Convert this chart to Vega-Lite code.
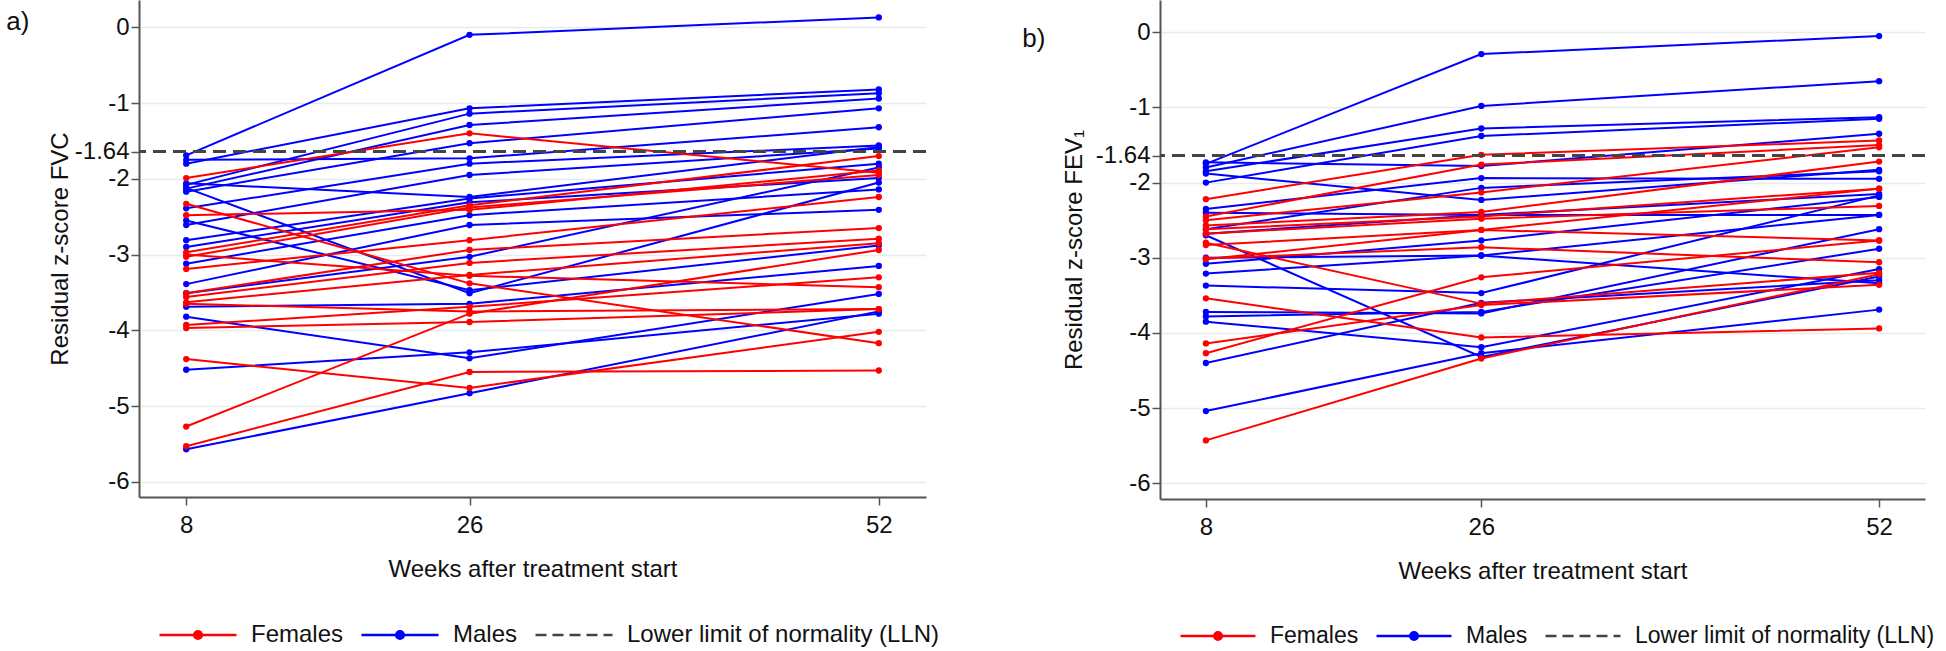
{
  "$schema": "https://vega.github.io/schema/vega-lite/v6.json",
  "background": "white",
  "padding": {"left": 6, "top": 0, "right": 0, "bottom": 0},
  "bounds": "flush",
  "spacing": 234,
  "config": {
    "font": "Liberation Sans",
    "view": {"stroke": null},
    "axis": {"labelFontSize": 24, "titleFontSize": 24, "titleFontWeight": "normal", "labelColor": "#111", "titleColor": "#111", "domainColor": "#555", "domainWidth": 2, "tickColor": "#555", "tickWidth": 1.5, "tickSize": 8, "labelOverlap": false, "labelFlush": false},
    "title": {"fontSize": 26, "fontWeight": "normal", "color": "#111"},
    "legend": {"orient": "bottom", "direction": "horizontal", "symbolStrokeWidth": 2.5, "labelColor": "#111", "labelOffset": 13, "columnPadding": 12, "labelLimit": 400, "padding": 19, "offset": -5}
  },
  "datasets": {
    "lln": [{"group": "Lower limit of normality (LLN)", "z": -1.64}],
    "fvc": [
      {"group":"Males","id":"m1","week":8,"z":-1.69},{"group":"Males","id":"m1","week":26,"z":-0.10},{"group":"Males","id":"m1","week":52,"z":0.13},
      {"group":"Males","id":"m2","week":8,"z":-1.80},{"group":"Males","id":"m2","week":26,"z":-1.07},{"group":"Males","id":"m2","week":52,"z":-0.82},
      {"group":"Males","id":"m3","week":8,"z":-2.08},{"group":"Males","id":"m3","week":26,"z":-1.14},{"group":"Males","id":"m3","week":52,"z":-0.87},
      {"group":"Males","id":"m4","week":8,"z":-2.13},{"group":"Males","id":"m4","week":26,"z":-1.29},{"group":"Males","id":"m4","week":52,"z":-0.94},
      {"group":"Males","id":"m5","week":8,"z":-2.17},{"group":"Males","id":"m5","week":26,"z":-1.53},{"group":"Males","id":"m5","week":52,"z":-1.07},
      {"group":"Males","id":"m6","week":8,"z":-1.75},{"group":"Males","id":"m6","week":26,"z":-1.73},{"group":"Males","id":"m6","week":52,"z":-1.32},
      {"group":"Males","id":"m7","week":8,"z":-2.39},{"group":"Males","id":"m7","week":26,"z":-1.80},{"group":"Males","id":"m7","week":52,"z":-1.56},
      {"group":"Males","id":"m8","week":8,"z":-2.61},{"group":"Males","id":"m8","week":26,"z":-1.95},{"group":"Males","id":"m8","week":52,"z":-1.60},
      {"group":"Males","id":"m9","week":8,"z":-2.81},{"group":"Males","id":"m9","week":26,"z":-2.26},{"group":"Males","id":"m9","week":52,"z":-1.80},
      {"group":"Males","id":"m10","week":8,"z":-2.90},{"group":"Males","id":"m10","week":26,"z":-2.31},{"group":"Males","id":"m10","week":52,"z":-1.99},
      {"group":"Males","id":"m11","week":8,"z":-3.12},{"group":"Males","id":"m11","week":26,"z":-2.48},{"group":"Males","id":"m11","week":52,"z":-2.14},
      {"group":"Males","id":"m12","week":8,"z":-2.55},{"group":"Males","id":"m12","week":26,"z":-3.47},{"group":"Males","id":"m12","week":52,"z":-2.88},
      {"group":"Males","id":"m13","week":8,"z":-3.39},{"group":"Males","id":"m13","week":26,"z":-2.61},{"group":"Males","id":"m13","week":52,"z":-2.41},
      {"group":"Males","id":"m14","week":8,"z":-3.51},{"group":"Males","id":"m14","week":26,"z":-3.03},{"group":"Males","id":"m14","week":52,"z":-1.85},
      {"group":"Males","id":"m15","week":8,"z":-3.69},{"group":"Males","id":"m15","week":26,"z":-3.65},{"group":"Males","id":"m15","week":52,"z":-3.15},
      {"group":"Males","id":"m16","week":8,"z":-3.82},{"group":"Males","id":"m16","week":26,"z":-4.37},{"group":"Males","id":"m16","week":52,"z":-3.52},
      {"group":"Males","id":"m17","week":8,"z":-4.52},{"group":"Males","id":"m17","week":26,"z":-4.29},{"group":"Males","id":"m17","week":52,"z":-3.78},
      {"group":"Males","id":"m18","week":8,"z":-5.57},{"group":"Males","id":"m18","week":26,"z":-4.83},{"group":"Males","id":"m18","week":52,"z":-3.75},
      {"group":"Males","id":"m19","week":8,"z":-2.06},{"group":"Males","id":"m19","week":26,"z":-2.24},{"group":"Males","id":"m19","week":52,"z":-1.58},
      {"group":"Males","id":"m20","week":8,"z":-2.12},{"group":"Males","id":"m20","week":26,"z":-3.51},{"group":"Males","id":"m20","week":52,"z":-2.05},
      {"group":"Females","id":"f1","week":8,"z":-1.99},{"group":"Females","id":"f1","week":26,"z":-1.40},{"group":"Females","id":"f1","week":52,"z":-1.92},
      {"group":"Females","id":"f2","week":8,"z":-2.33},{"group":"Females","id":"f2","week":26,"z":-3.38},{"group":"Females","id":"f2","week":52,"z":-4.17},
      {"group":"Females","id":"f3","week":8,"z":-2.48},{"group":"Females","id":"f3","week":26,"z":-2.41},{"group":"Females","id":"f3","week":52,"z":-1.89},
      {"group":"Females","id":"f4","week":8,"z":-2.97},{"group":"Females","id":"f4","week":26,"z":-2.35},{"group":"Females","id":"f4","week":52,"z":-1.70},
      {"group":"Females","id":"f5","week":8,"z":-3.03},{"group":"Females","id":"f5","week":26,"z":-2.38},{"group":"Females","id":"f5","week":52,"z":-1.95},
      {"group":"Females","id":"f6","week":8,"z":-3.19},{"group":"Females","id":"f6","week":26,"z":-2.81},{"group":"Females","id":"f6","week":52,"z":-2.24},
      {"group":"Females","id":"f7","week":8,"z":-3.51},{"group":"Females","id":"f7","week":26,"z":-2.94},{"group":"Females","id":"f7","week":52,"z":-2.65},
      {"group":"Females","id":"f8","week":8,"z":-3.56},{"group":"Females","id":"f8","week":26,"z":-3.11},{"group":"Females","id":"f8","week":52,"z":-2.79},
      {"group":"Females","id":"f9","week":8,"z":-3.63},{"group":"Females","id":"f9","week":26,"z":-3.27},{"group":"Females","id":"f9","week":52,"z":-2.85},
      {"group":"Females","id":"f10","week":8,"z":-3.93},{"group":"Females","id":"f10","week":26,"z":-3.69},{"group":"Females","id":"f10","week":52,"z":-3.30},
      {"group":"Females","id":"f11","week":8,"z":-3.97},{"group":"Females","id":"f11","week":26,"z":-3.89},{"group":"Females","id":"f11","week":52,"z":-3.72},
      {"group":"Females","id":"f12","week":8,"z":-4.38},{"group":"Females","id":"f12","week":26,"z":-4.76},{"group":"Females","id":"f12","week":52,"z":-4.02},
      {"group":"Females","id":"f13","week":8,"z":-5.27},{"group":"Females","id":"f13","week":26,"z":-3.78},{"group":"Females","id":"f13","week":52,"z":-2.94},
      {"group":"Females","id":"f14","week":8,"z":-5.53},{"group":"Females","id":"f14","week":26,"z":-4.55},{"group":"Females","id":"f14","week":52,"z":-4.53},
      {"group":"Females","id":"f15","week":8,"z":-3.65},{"group":"Females","id":"f15","week":26,"z":-3.75},{"group":"Females","id":"f15","week":52,"z":-3.72},
      {"group":"Females","id":"f16","week":8,"z":-3.00},{"group":"Females","id":"f16","week":26,"z":-3.28},{"group":"Females","id":"f16","week":52,"z":-3.43}
    ],
    "fev": [
      {"group":"Males","id":"m1","week":8,"z":-1.75},{"group":"Males","id":"m1","week":26,"z":-0.29},{"group":"Males","id":"m1","week":52,"z":-0.05},
      {"group":"Males","id":"m2","week":8,"z":-1.80},{"group":"Males","id":"m2","week":26,"z":-0.98},{"group":"Males","id":"m2","week":52,"z":-0.65},
      {"group":"Males","id":"m3","week":8,"z":-1.85},{"group":"Males","id":"m3","week":26,"z":-1.28},{"group":"Males","id":"m3","week":52,"z":-1.13},
      {"group":"Males","id":"m4","week":8,"z":-2.00},{"group":"Males","id":"m4","week":26,"z":-1.38},{"group":"Males","id":"m4","week":52,"z":-1.15},
      {"group":"Males","id":"m5","week":8,"z":-1.73},{"group":"Males","id":"m5","week":26,"z":-1.78},{"group":"Males","id":"m5","week":52,"z":-1.35},
      {"group":"Males","id":"m6","week":8,"z":-1.88},{"group":"Males","id":"m6","week":26,"z":-2.23},{"group":"Males","id":"m6","week":52,"z":-1.83},
      {"group":"Males","id":"m7","week":8,"z":-2.35},{"group":"Males","id":"m7","week":26,"z":-1.94},{"group":"Males","id":"m7","week":52,"z":-1.95},
      {"group":"Males","id":"m8","week":8,"z":-2.62},{"group":"Males","id":"m8","week":26,"z":-2.07},{"group":"Males","id":"m8","week":52,"z":-1.85},
      {"group":"Males","id":"m9","week":8,"z":-2.68},{"group":"Males","id":"m9","week":26,"z":-2.43},{"group":"Males","id":"m9","week":52,"z":-2.15},
      {"group":"Males","id":"m10","week":8,"z":-3.08},{"group":"Males","id":"m10","week":26,"z":-2.77},{"group":"Males","id":"m10","week":52,"z":-2.19},
      {"group":"Males","id":"m11","week":8,"z":-3.21},{"group":"Males","id":"m11","week":26,"z":-2.97},{"group":"Males","id":"m11","week":52,"z":-2.43},
      {"group":"Males","id":"m12","week":8,"z":-3.37},{"group":"Males","id":"m12","week":26,"z":-3.47},{"group":"Males","id":"m12","week":52,"z":-2.17},
      {"group":"Males","id":"m13","week":8,"z":-3.72},{"group":"Males","id":"m13","week":26,"z":-3.74},{"group":"Males","id":"m13","week":52,"z":-2.62},
      {"group":"Males","id":"m14","week":8,"z":-3.78},{"group":"Males","id":"m14","week":26,"z":-3.72},{"group":"Males","id":"m14","week":52,"z":-2.88},
      {"group":"Males","id":"m15","week":8,"z":-3.85},{"group":"Males","id":"m15","week":26,"z":-4.19},{"group":"Males","id":"m15","week":52,"z":-3.15},
      {"group":"Males","id":"m16","week":8,"z":-2.70},{"group":"Males","id":"m16","week":26,"z":-4.32},{"group":"Males","id":"m16","week":52,"z":-3.25},
      {"group":"Males","id":"m17","week":8,"z":-4.40},{"group":"Males","id":"m17","week":26,"z":-3.60},{"group":"Males","id":"m17","week":52,"z":-3.30},
      {"group":"Males","id":"m18","week":8,"z":-5.04},{"group":"Males","id":"m18","week":26,"z":-4.27},{"group":"Males","id":"m18","week":52,"z":-3.69},
      {"group":"Males","id":"m19","week":8,"z":-2.40},{"group":"Males","id":"m19","week":26,"z":-2.43},{"group":"Males","id":"m19","week":52,"z":-2.43},
      {"group":"Males","id":"m20","week":8,"z":-3.00},{"group":"Males","id":"m20","week":26,"z":-2.97},{"group":"Males","id":"m20","week":52,"z":-3.34},
      {"group":"Females","id":"f1","week":8,"z":-2.22},{"group":"Females","id":"f1","week":26,"z":-1.63},{"group":"Females","id":"f1","week":52,"z":-1.44},
      {"group":"Females","id":"f2","week":8,"z":-2.45},{"group":"Females","id":"f2","week":26,"z":-1.76},{"group":"Females","id":"f2","week":52,"z":-1.50},
      {"group":"Females","id":"f3","week":8,"z":-2.50},{"group":"Females","id":"f3","week":26,"z":-2.13},{"group":"Females","id":"f3","week":52,"z":-1.53},
      {"group":"Females","id":"f4","week":8,"z":-2.57},{"group":"Females","id":"f4","week":26,"z":-2.39},{"group":"Females","id":"f4","week":52,"z":-1.72},
      {"group":"Females","id":"f5","week":8,"z":-2.62},{"group":"Females","id":"f5","week":26,"z":-2.45},{"group":"Females","id":"f5","week":52,"z":-2.08},
      {"group":"Females","id":"f6","week":8,"z":-2.68},{"group":"Females","id":"f6","week":26,"z":-2.48},{"group":"Females","id":"f6","week":52,"z":-2.31},
      {"group":"Females","id":"f7","week":8,"z":-2.83},{"group":"Females","id":"f7","week":26,"z":-2.63},{"group":"Females","id":"f7","week":52,"z":-2.77},
      {"group":"Females","id":"f8","week":8,"z":-3.01},{"group":"Females","id":"f8","week":26,"z":-2.86},{"group":"Females","id":"f8","week":52,"z":-3.06},
      {"group":"Females","id":"f9","week":8,"z":-2.80},{"group":"Females","id":"f9","week":26,"z":-3.61},{"group":"Females","id":"f9","week":52,"z":-3.20},
      {"group":"Females","id":"f10","week":8,"z":-3.54},{"group":"Females","id":"f10","week":26,"z":-4.06},{"group":"Females","id":"f10","week":52,"z":-3.94},
      {"group":"Females","id":"f11","week":8,"z":-4.14},{"group":"Females","id":"f11","week":26,"z":-3.63},{"group":"Females","id":"f11","week":52,"z":-3.36},
      {"group":"Females","id":"f12","week":8,"z":-4.27},{"group":"Females","id":"f12","week":26,"z":-3.26},{"group":"Females","id":"f12","week":52,"z":-2.77},
      {"group":"Females","id":"f13","week":8,"z":-5.43},{"group":"Females","id":"f13","week":26,"z":-4.34},{"group":"Females","id":"f13","week":52,"z":-3.22},
      {"group":"Females","id":"f14","week":8,"z":-3.02},{"group":"Females","id":"f14","week":26,"z":-2.63},{"group":"Females","id":"f14","week":52,"z":-2.08}
    ]
  },
  "resolve": {"scale": {"x": "independent", "y": "independent", "color": "independent"}, "legend": {"color": "independent"}},
  "hconcat": [
    {
      "width": 787,
      "height": 497,
      "title": {"text": "a)", "anchor": "start", "frame": "bounds", "dx": -42, "dy": 35, "offset": 0},
      "layer": [
        {
          "data": {"name": "fvc"},
          "mark": {"type": "line", "strokeWidth": 2, "point": {"size": 40, "filled": true, "opacity": 1}},
          "encoding": {
            "x": {"field": "week", "type": "quantitative", "scale": {"domain": [5, 55], "nice": false, "zero": false},
                  "axis": {"values": [8, 26, 52], "title": "Weeks after treatment start", "grid": false, "labelPadding": 8, "titlePadding": 20}},
            "y": {"field": "z", "type": "quantitative", "scale": {"domain": [-6.2, 0.36], "nice": false, "zero": false},
                  "axis": {"values": [0, -1, -1.64, -2, -3, -4, -5, -6], "labelExpr": "'' + datum.value", "title": "Residual z-score FVC", "titlePadding": 2, "labelPadding": 2, "grid": true, "gridWidth": 1.5,
                           "gridColor": {"condition": {"test": "datum.value === -1.64", "value": "transparent"}, "value": "#e6ecec"}}},
            "color": {"field": "group", "type": "nominal",
                      "scale": {"domain": ["Females", "Males", "Lower limit of normality (LLN)"], "range": ["#ff0000", "#0000ff", "#444444"]},
                      "legend": {"title": null, "symbolSize": 5929, "labelFontSize": 24, "encode": {"symbols": {"update": {
                        "shape": {"signal": "datum.value === 'Lower limit of normality (LLN)' ? 'M-1,0H1' : 'M-1,0H1M0.1,0A0.1,0.1,0,1,1,-0.1,0A0.1,0.1,0,1,1,0.1,0Z'"},
                        "strokeDash": {"signal": "datum.value === 'Lower limit of normality (LLN)' ? [11, 6] : null"},
                        "fill": {"signal": "datum.value === 'Females' ? '#ff0000' : datum.value === 'Males' ? '#0000ff' : 'transparent'"},
                        "opacity": {"value": 1}}}}}},
            "detail": {"field": "id"}
          }
        },
        {
          "data": {"name": "lln"},
          "mark": {"type": "rule", "strokeDash": [13, 7], "strokeWidth": 3},
          "encoding": {"y": {"field": "z", "type": "quantitative"}, "color": {"field": "group", "type": "nominal"}}
        }
      ]
    },
    {
      "width": 765,
      "height": 499,
      "title": {"text": "b)", "anchor": "start", "frame": "bounds", "dx": -40, "dy": 52, "offset": 0},
      "layer": [
        {
          "data": {"name": "fev"},
          "mark": {"type": "line", "strokeWidth": 2, "point": {"size": 40, "filled": true, "opacity": 1}},
          "encoding": {
            "x": {"field": "week", "type": "quantitative", "scale": {"domain": [5, 55], "nice": false, "zero": false},
                  "axis": {"values": [8, 26, 52], "title": "Weeks after treatment start", "grid": false, "labelPadding": 8, "titlePadding": 20}},
            "y": {"field": "z", "type": "quantitative", "scale": {"domain": [-6.21, 0.43], "nice": false, "zero": false},
                  "axis": {"values": [0, -1, -1.64, -2, -3, -4, -5, -6], "labelExpr": "'' + datum.value", "title": "Residual z-score FEV₁", "titlePadding": 9, "labelPadding": 2, "grid": true, "gridWidth": 1.5,
                           "gridColor": {"condition": {"test": "datum.value === -1.64", "value": "transparent"}, "value": "#e6ecec"}}},
            "color": {"field": "group", "type": "nominal",
                      "scale": {"domain": ["Females", "Males", "Lower limit of normality (LLN)"], "range": ["#ff0000", "#0000ff", "#444444"]},
                      "legend": {"title": null, "symbolSize": 5625, "labelFontSize": 23, "encode": {"symbols": {"update": {
                        "shape": {"signal": "datum.value === 'Lower limit of normality (LLN)' ? 'M-1,0H1' : 'M-1,0H1M0.1,0A0.1,0.1,0,1,1,-0.1,0A0.1,0.1,0,1,1,0.1,0Z'"},
                        "strokeDash": {"signal": "datum.value === 'Lower limit of normality (LLN)' ? [11, 6] : null"},
                        "fill": {"signal": "datum.value === 'Females' ? '#ff0000' : datum.value === 'Males' ? '#0000ff' : 'transparent'"},
                        "opacity": {"value": 1}}}}}},
            "detail": {"field": "id"}
          }
        },
        {
          "data": {"name": "lln"},
          "mark": {"type": "rule", "strokeDash": [13, 7], "strokeWidth": 3},
          "encoding": {"y": {"field": "z", "type": "quantitative"}, "color": {"field": "group", "type": "nominal"}}
        }
      ]
    }
  ]
}
